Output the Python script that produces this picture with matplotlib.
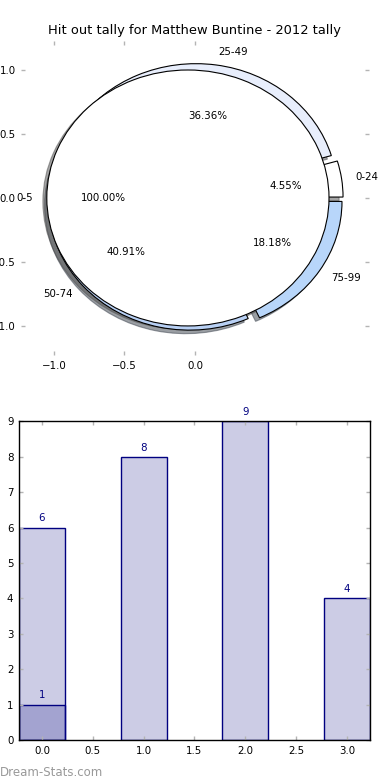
import matplotlib
matplotlib.use("Agg")
import matplotlib.pyplot as plt

# pie data
all_labels = ['0-5']
all_counts = [1]
range_labels = ['0-24', '25-49', '50-74', '75-99']
range_counts = [1, 8, 9, 4]
range_colors = ['white', '#e8eefc', '#b8d0f4', '#b8d6fa']

# bar data
bar_x = [0, 1, 2, 3]
bar_heights = [6, 8, 9, 4]
low_x = [0]
low_heights = [1]

tick_grey = '#b4b4b4'
fs = 7.4

fig = plt.figure(figsize=(3.9, 7.8), dpi=100)

# ---- pie ----
ax1 = fig.add_axes([0.0549, 0.5444, 0.890, 0.4036])
ax1.pie(range_counts, labels=range_labels, colors=range_colors,
        explode=[0.05] * 4, autopct='%1.2f%%', shadow=True, frame=True,
        wedgeprops={'edgecolor': 'black', 'linewidth': 0.8},
        textprops={'fontsize': fs})
ax1.pie(all_counts, labels=all_labels, colors=['white'],
        explode=[0.05], autopct='%1.2f%%', shadow=True, frame=True,
        wedgeprops={'edgecolor': 'black', 'linewidth': 0.8},
        textprops={'fontsize': fs})
ax1.set_aspect('auto')
ax1.set_xlim(-1.23, 1.23)
ax1.set_ylim(-1.23, 1.23)
ax1.set_xticks([-1.0, -0.5, 0.0])
ax1.set_yticks([-1.0, -0.5, 0.0, 0.5, 1.0])
ax1.set_frame_on(False)
ax1.tick_params(direction='in', length=3, width=1, color=tick_grey,
                labelsize=fs, pad=4, top=True, right=True)
ax1.set_title('Hit out tally for Matthew Buntine - 2012 tally', fontsize=9.4, pad=4.5)

# ---- bars ----
ax2 = fig.add_axes([0.0487, 0.0513, 0.900, 0.4085])
b1 = ax2.bar(bar_x, bar_heights, width=0.45, color=(0, 0, 0.5, 0.2),
             edgecolor='navy', linewidth=1)
b2 = ax2.bar(low_x, low_heights, width=0.45, color=(0, 0, 0.5, 0.2),
             edgecolor='navy', linewidth=1)
for rect in list(b1) + list(b2):
    h = rect.get_height()
    ax2.text(rect.get_x() + rect.get_width() / 2, h + 0.12, '%d' % h,
             ha='center', va='bottom', color='navy', fontsize=fs)
ax2.set_xlim(-0.225, 3.225)
ax2.set_ylim(0, 9)
ax2.set_xticks([0.0, 0.5, 1.0, 1.5, 2.0, 2.5, 3.0])
ax2.tick_params(direction='in', length=3, width=1, color=tick_grey,
                labelsize=fs, pad=4, top=True, right=True)
for s in ax2.spines.values():
    s.set_linewidth(1)

fig.text(0.0, 1 - 776 / 780, 'Dream-Stats.com', color='#999999', fontsize=8.5,
         ha='left', va='baseline')

fig.savefig('out.png', dpi=100)
